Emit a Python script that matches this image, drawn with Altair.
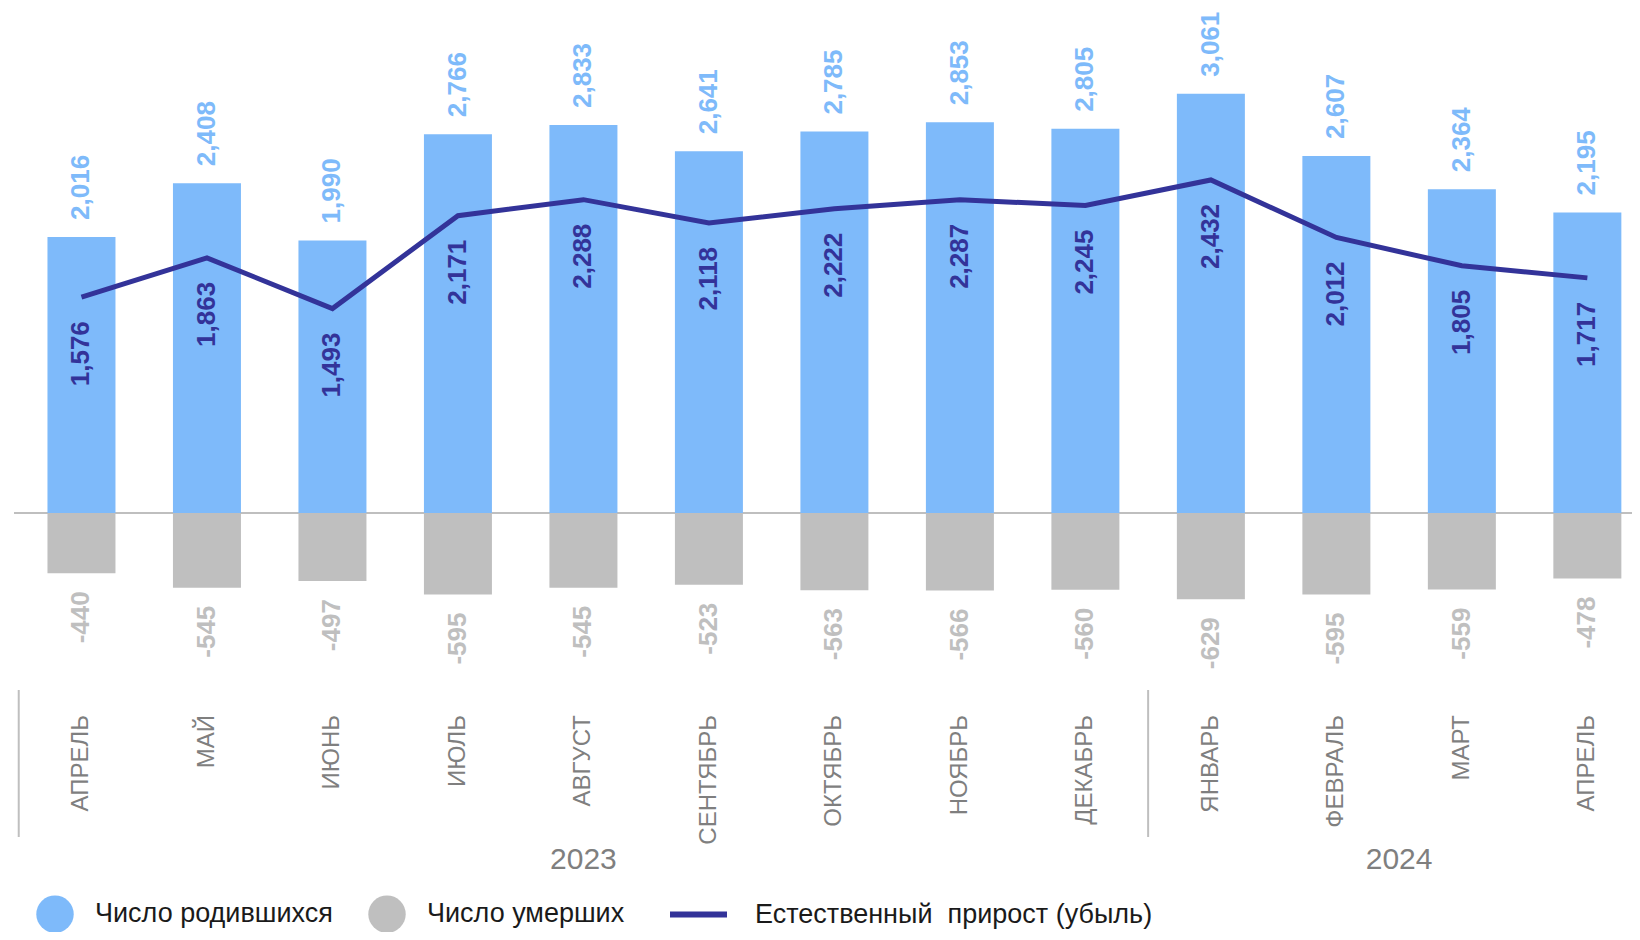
import altair as alt
import pandas as pd

# ---- data ----
months = ["АПРЕЛЬ", "МАЙ", "ИЮНЬ", "ИЮЛЬ", "АВГУСТ", "СЕНТЯБРЬ", "ОКТЯБРЬ",
          "НОЯБРЬ", "ДЕКАБРЬ", "ЯНВАРЬ", "ФЕВРАЛЬ", "МАРТ", "АПРЕЛЬ"]
years = [2023, 2023, 2023, 2023, 2023, 2023, 2023, 2023, 2023, 2024, 2024, 2024, 2024]
births = [2016, 2408, 1990, 2766, 2833, 2641, 2785, 2853, 2805, 3061, 2607, 2364, 2195]
deaths = [-440, -545, -497, -595, -545, -523, -563, -566, -560, -629, -595, -559, -478]
growth = [1576, 1863, 1493, 2171, 2288, 2118, 2222, 2287, 2245, 2432, 2012, 1805, 1717]

BIRTH_NAME = "Число родившихся"
DEATH_NAME = "Число умерших"
GROWTH_NAME = "Естественный\u00a0 прирост (убыль)"

BLUE = "#7EBAFA"
GREY = "#BFBFBF"
NAVY = "#333399"
AXIS_GREY = "#7F7F7F"
FONT = "Liberation Sans"

n = len(months)
idx = list(range(n))


def fmt(v):
    return f"{v:,}"


bars_df = pd.DataFrame({
    "idx": idx * 2,
    "value": births + deaths,
    "series": [BIRTH_NAME] * n + [DEATH_NAME] * n,
    "label": [fmt(v) for v in births + deaths],
})
line_df = pd.DataFrame({
    "idx": idx,
    "value": growth,
    "kind": [GROWTH_NAME] * n,
    "label": [fmt(v) for v in growth],
})
month_df = pd.DataFrame({"idx": idx, "month": months, "year": [str(y) for y in years]})
sep_df = month_df.groupby("year", as_index=False)["idx"].min()
sep_df["sep"] = sep_df["idx"] - 0.5
zero_df = pd.DataFrame({"z": [0]})

xs = alt.Scale(domain=[-0.45, 12.3], nice=False, zero=False)
ys = alt.Scale(domain=[-1000, 3680], nice=False, zero=False)


def X(field):
    return alt.X(field, type="quantitative", scale=xs, axis=None)


def Y(field):
    return alt.Y(field, type="quantitative", scale=ys, axis=None)


zero_rule = alt.Chart(zero_df).mark_rule(color=GREY, strokeWidth=2).encode(
    y=Y("z"), x=alt.value(-6), x2=alt.value(1620)
)

bars = alt.Chart(bars_df).mark_bar(size=68).encode(
    x=X("idx"),
    y=Y("value"),
    y2=alt.datum(0),
    color=alt.Color(
        "series:N",
        scale=alt.Scale(domain=[BIRTH_NAME, DEATH_NAME], range=[BLUE, GREY]),
        legend=alt.Legend(
            orient="none", legendX=16, legendY=886, direction="horizontal",
            title=None, symbolType="circle", symbolSize=1400, symbolStrokeWidth=0,
            symbolOpacity=1, labelFontSize=27, labelColor="#1A1A1A", labelFont=FONT,
            labelOffset=21, columnPadding=35, padding=0, labelLimit=500,
        ),
    ),
)

line = alt.Chart(line_df).mark_line(strokeWidth=5).encode(
    x=X("idx"),
    y=Y("value"),
    stroke=alt.Stroke(
        "kind:N",
        scale=alt.Scale(domain=[GROWTH_NAME], range=[NAVY]),
        legend=alt.Legend(
            orient="none", legendX=647, legendY=874, direction="horizontal",
            title=None, symbolType="stroke", symbolSize=3249, symbolStrokeWidth=6,
            labelFontSize=27, labelColor="#1A1A1A", labelFont=FONT,
            labelOffset=25, padding=0, labelLimit=600,
        ),
    ),
)

birth_text = alt.Chart(bars_df).transform_filter(
    alt.datum.series == BIRTH_NAME
).mark_text(
    angle=270, align="left", baseline="middle", dx=17,
    fontSize=26, fontWeight="bold", color=BLUE, font=FONT,
).encode(x=X("idx"), y=Y("value"), text="label:N")

death_text = alt.Chart(bars_df).transform_filter(
    alt.datum.series == DEATH_NAME
).mark_text(
    angle=270, align="right", baseline="middle", dx=-18,
    fontSize=26, fontWeight="bold", color=GREY, font=FONT,
).encode(x=X("idx"), y=Y("value"), text="label:N")

growth_text = alt.Chart(line_df).mark_text(
    angle=270, align="right", baseline="middle", dx=-24,
    fontSize=26, fontWeight="bold", color=NAVY, font=FONT,
).encode(x=X("idx"), y=Y("value"), text="label:N")

month_text = alt.Chart(month_df).mark_text(
    angle=270, align="right", baseline="middle",
    fontSize=24, color=AXIS_GREY, font=FONT,
).encode(x=X("idx"), y=alt.value(706), text="month:N")

year_text = alt.Chart(month_df).transform_aggregate(
    center="mean(idx)", groupby=["year"]
).mark_text(
    align="center", baseline="middle", fontSize=30, color=AXIS_GREY, font=FONT,
).encode(x=X("center"), y=alt.value(851), text="year:N")

seps = alt.Chart(sep_df).mark_rule(color=GREY, strokeWidth=2).encode(
    x=X("sep"), y=alt.value(681), y2=alt.value(828)
)

chart = alt.layer(
    zero_rule, bars, line, birth_text, death_text, growth_text,
    month_text, year_text, seps,
).resolve_scale(color="independent", stroke="independent").properties(
    width=1610,
    height=641,
    autosize=alt.AutoSizeParams(type="none"),
    padding={"left": 12, "top": 1, "right": 2, "bottom": 282},
).configure(font=FONT).configure_view(stroke="transparent", strokeWidth=0)

chart.save("out.html", embed_options={"renderer": "svg", "actions": False})
